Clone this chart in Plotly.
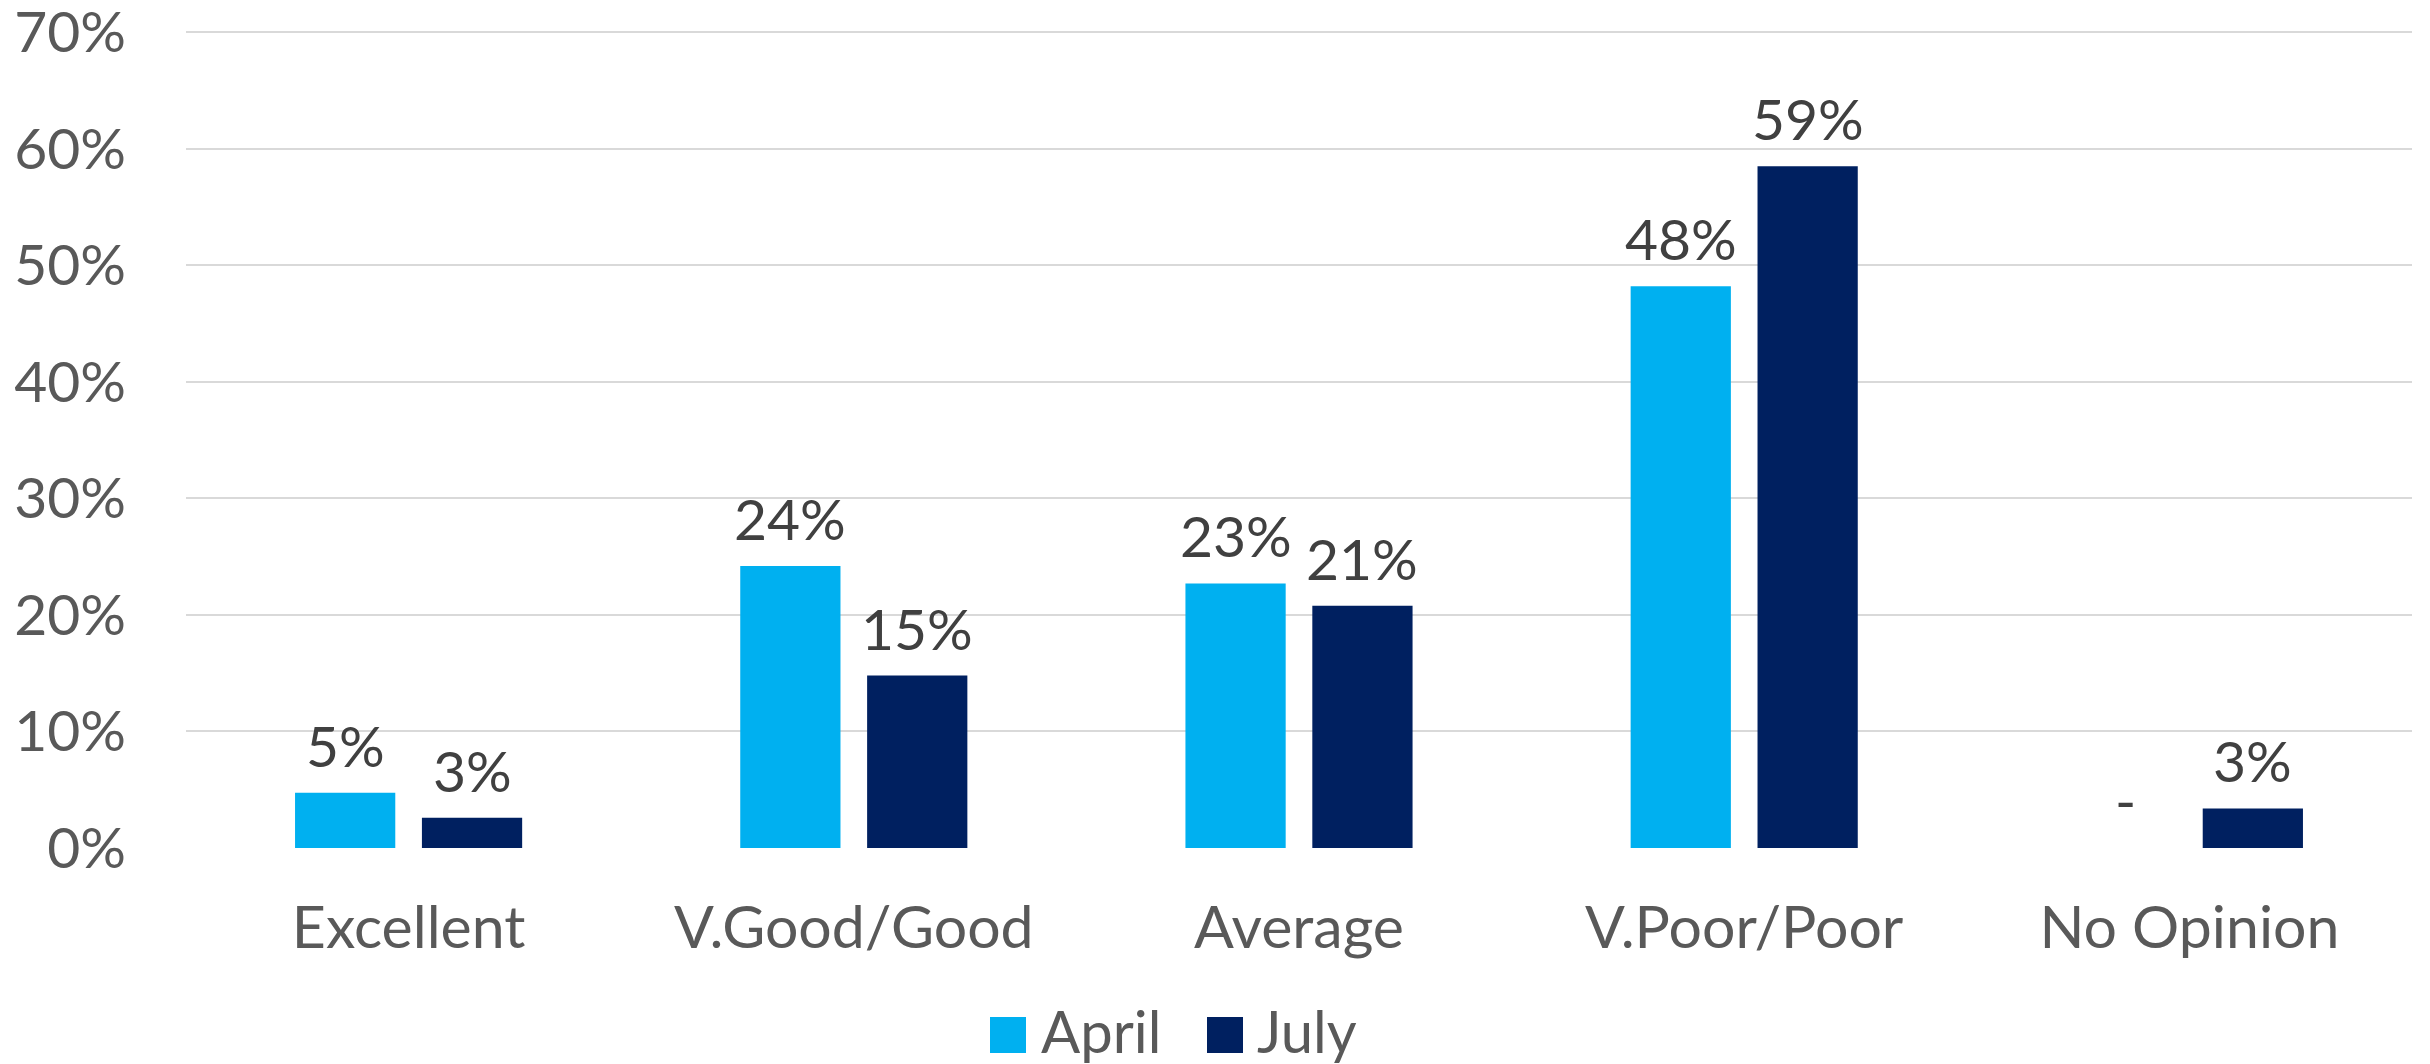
import plotly.graph_objects as go

categories = ["Excellent", "V.Good/Good", "Average", "V.Poor/Poor", "No Opinion"]
april = [4.75, 24.2, 22.7, 48.2, 0.0]
july = [2.6, 14.8, 20.8, 58.5, 3.4]
april_labels = ["5%", "24%", "23%", "48%", "-"]
july_labels = ["3%", "15%", "21%", "59%", "3%"]
series_names = ["April", "July"]
series_colors = ["#00B0F0", "#002060"]
y_ticks = [0, 10, 20, 30, 40, 50, 60, 70]
y_tick_labels = ["0%", "10%", "20%", "30%", "40%", "50%", "60%", "70%"]

# page has an 8px body margin, so the figure is 8px smaller than the window
OFF = 8
W, H = 2430 - OFF, 1064 - OFF
ML, MR, MT, MB = 186 - OFF, 18, 30 - OFF, 216
FONT = "Lato"
FS = 57

fig = go.Figure()
for name, vals, color in zip(series_names, [april, july], series_colors):
    fig.add_trace(go.Bar(x=categories, y=vals, name=name, marker_color=color,
                         marker_line_width=0, showlegend=False))

# data labels
pw = W - ML - MR
cat_w = pw / len(categories)
bargap = 0.43
bargroupgap = 0.21
slot = cat_w * (1 - bargap) / 2
for vals, labels, sign in [(april, april_labels, -1), (july, july_labels, 1)]:
    for c, v, t in zip(categories, vals, labels):
        fig.add_annotation(x=c, y=v, xref="x", yref="y", text=t, showarrow=False,
                           xshift=sign * slot / 2, yshift=12, yanchor="bottom",
                           font=dict(family=FONT, size=FS, color="#404040"))

# custom legend (positions given in window pixels)
ph = H - MT - MB
def px2x(px):
    return (px - OFF - ML) / pw
def px2y(py):
    return (H - MB - (py - OFF)) / ph

legend_items = [(990, 1043), (1207, 1259)]
for (sx, tx), name, color in zip(legend_items, series_names, series_colors):
    fig.add_shape(type="rect", xref="paper", yref="paper",
                  x0=px2x(sx), x1=px2x(sx + 36), y0=px2y(1053), y1=px2y(1017),
                  fillcolor=color, line_width=0)
    fig.add_annotation(x=px2x(tx - 4), y=px2y(1030), xref="paper", yref="paper",
                       text=name, showarrow=False, xanchor="left", yanchor="middle",
                       font=dict(family=FONT, size=FS + 1, color="#595959"))

fig.update_layout(
    width=W, height=H,
    margin=dict(l=ML, r=MR, t=MT, b=MB, autoexpand=False),
    barmode="group", bargap=bargap, bargroupgap=bargroupgap,
    plot_bgcolor="white", paper_bgcolor="white",
    font=dict(family=FONT, size=FS, color="#595959"),
    showlegend=False,
)
fig.update_yaxes(range=[0, 70.2], tickvals=y_ticks, ticktext=y_tick_labels,
                 showgrid=True, gridcolor="#D9D9D9", gridwidth=2,
                 zeroline=False, showline=False, ticks="",
                 ticklabelstandoff=59, ticklabeloverflow="allow",
                 tickfont=dict(family=FONT, size=FS, color="#595959"))
fig.update_xaxes(showgrid=False, showline=False, ticks="", ticklabelstandoff=40,
                 tickfont=dict(family=FONT, size=FS + 2, color="#595959"))

fig.write_html("out.html")
